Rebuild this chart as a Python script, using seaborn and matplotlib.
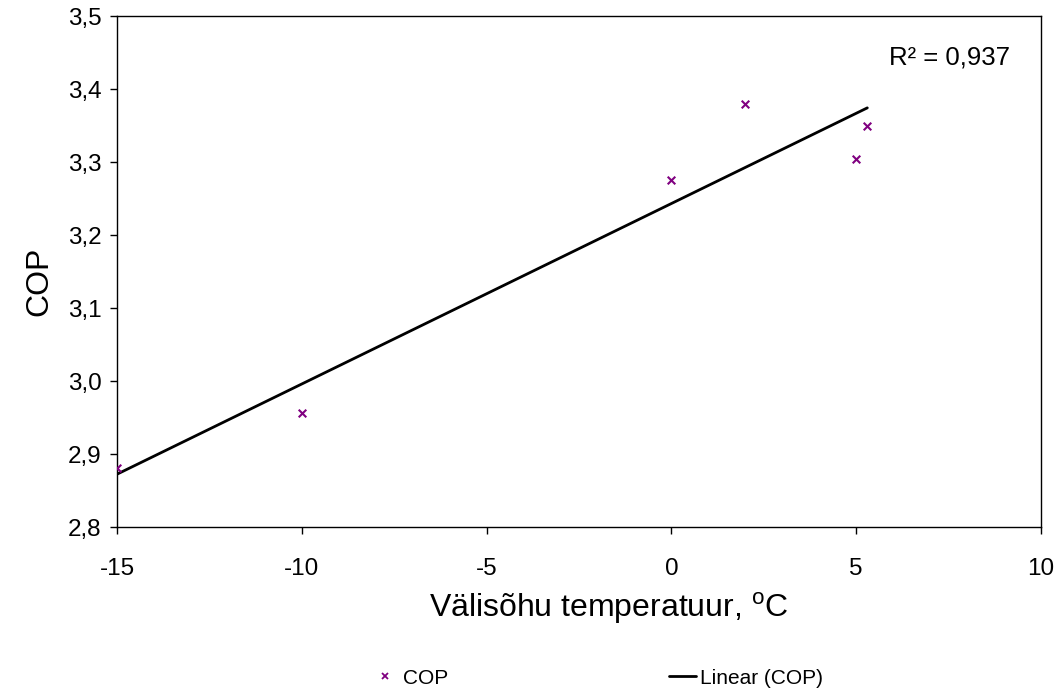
import numpy as np
import matplotlib
matplotlib.use("Agg")
import matplotlib.pyplot as plt
import seaborn as sns
from matplotlib.ticker import FuncFormatter, MultipleLocator
from matplotlib.lines import Line2D

# data
temperatuur = [-15, -10, 0, 2, 5, 5.3]
cop = [2.881, 2.956, 3.275, 3.379, 3.304, 3.350]

sns.set_style("ticks")
plt.rcParams['font.family'] = ['Liberation Sans', 'DejaVu Sans']
plt.rcParams['mathtext.fontset'] = 'custom'
plt.rcParams['mathtext.rm'] = 'Liberation Sans'
for k in ['text.color', 'axes.labelcolor', 'xtick.color', 'ytick.color']:
    plt.rcParams[k] = 'black'

fig = plt.figure(figsize=(10.54, 6.88), dpi=100)
ax = fig.add_axes([0.111, 0.234, 0.8767, 0.7427])

# punktid
sns.scatterplot(x=temperatuur, y=cop, marker='x', color='#800080', s=30,
                linewidth=1.5, ax=ax, zorder=3)

# lineaarne trend
sns.regplot(x=temperatuur, y=cop, scatter=False, ci=None, truncate=True,
            line_kws={'color': 'black', 'linewidth': 2}, ax=ax)

ax.set_xlim(-15, 10)
ax.set_ylim(2.8, 3.5)
ax.xaxis.set_major_locator(MultipleLocator(5))
ax.yaxis.set_major_locator(MultipleLocator(0.1))
ax.yaxis.set_major_formatter(FuncFormatter(lambda v, p: f'{v:.1f}'.replace('.', ',')))
ax.xaxis.set_major_formatter(FuncFormatter(lambda v, p: f'{v:.0f}'))
ax.tick_params(axis='both', labelsize=17.5, direction='out', length=5, width=1,
               color='black')
ax.tick_params(axis='x', pad=17)
ax.tick_params(axis='y', pad=6)
for s in ax.spines.values():
    s.set_color('black')
    s.set_linewidth(1)

ax.set_xlabel('Välisõhu temperatuur, $^{\\mathrm{o}}$C', fontsize=23, labelpad=7.5)
ax.set_ylabel('COP', fontsize=23, labelpad=10)
ax.xaxis.label.set_x(0.532)
ax.yaxis.label.set_y(0.48)

# R2
r = np.corrcoef(temperatuur, cop)[0, 1]
ax.text(0.836, 0.918, f'R² = {r**2:.3f}'.replace('.', ','), transform=ax.transAxes,
        fontsize=18.5, ha='left', va='center')

handles = [Line2D([], [], marker='x', color='#800080', linestyle='none', markersize=5,
                  markeredgewidth=1.3),
           Line2D([], [], color='black', linewidth=2)]
fig.legend(handles, ['COP', 'Linear (COP)'], loc='center', bbox_to_anchor=(0.567, 0.0145),
           ncol=2, frameon=False, fontsize=15, columnspacing=10.6, handlelength=1.3,
           handletextpad=0.2)

plt.savefig('out.png', dpi=100)
